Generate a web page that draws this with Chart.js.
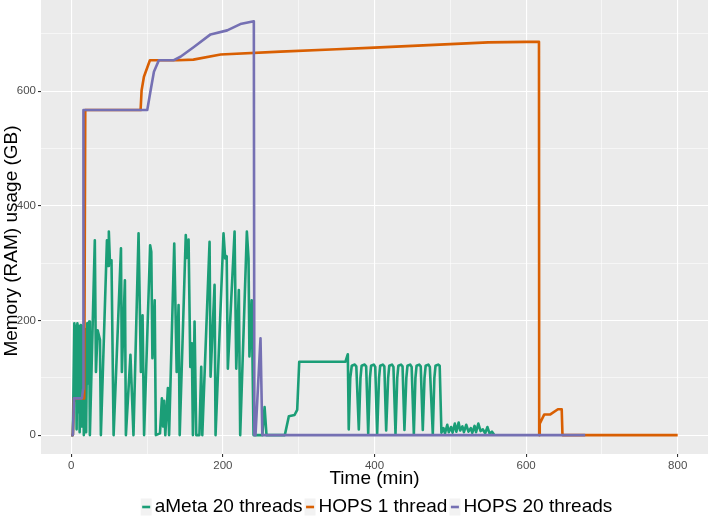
<!DOCTYPE html>
<html lang="en">
<head>
  <meta charset="UTF-8" />
  <title>Memory usage</title>
  <script src="https://cdn.jsdelivr.net/npm/chart.js"></script>
  <style>
    html, body { margin: 0; padding: 0; background: #fff; }
  </style>
</head>
<body>
  <canvas id="memChart" width="708" height="518"></canvas>

  <script>
    // Series labels and colours (Dark2)
    const seriesNames = ['aMeta 20 threads', 'HOPS 1 thread', 'HOPS 20 threads'];
    const seriesColors = ['#1B9E77', '#D95F02', '#7570B3'];

    // tick positions (labels only on every 200)
    const xTicks = [0, 100, 200, 300, 400, 500, 600, 700, 800];
    const yTicks = [0, 100, 200, 300, 400, 500, 600, 700];

    // [time (min), memory (GB)]
    const ametaData = [
      [0, 0], [2, 0], [4, 195], [5, 60], [6, 190], [7, 10], [8, 195], [9, 40], [10, 190], [11, 5],
      [12.5, 192], [14, 15], [15, 190], [16.5, 0], [18, 185], [19.5, 5], [21, 195], [22.5, 90], [23.5, 198], [24.5, 0],
      [31, 340], [32.5, 110], [34.7, 183], [37.8, 166], [39, 0],
      [47, 340], [48.5, 295], [49.5, 355], [51, 300], [53, 305], [55.8, 0],
      [65.5, 326], [66.7, 110], [70.7, 270], [72, 0],
      [78, 140], [82, 0],
      [88.7, 352], [91.8, 110], [94, 209], [96, 0],
      [104, 331], [105.5, 320], [107, 134], [110, 235], [111.5, 0], [117, 3],
      [119.5, 64], [121, 15], [122.5, 60], [124, 0], [127.4, 82], [129, 0],
      [135.8, 334], [139, 110], [141.5, 227], [143, 0],
      [151, 349], [152.5, 309], [154.7, 341], [157, 119], [159, 160], [160.4, 0],
      [162.6, 198], [164.8, 0], [169, 0], [171.4, 119], [172.8, 0],
      [182.4, 337], [183.7, 102], [189, 262], [190.3, 0],
      [200.8, 352], [203, 308], [205, 312], [206.5, 116],
      [215.4, 355], [217.6, 116], [221, 253], [222.8, 0],
      [231.6, 355], [233.8, 308], [235, 137], [238, 235], [240.4, 0],
      [252, 0], [255, 49], [257.5, 0],
      [281.7, 0], [287, 33], [294.5, 35], [298, 44], [300.7, 128], [361.7, 128], [364.8, 141], [366, 10],
      [368, 100], [370, 121], [374, 123], [376, 120], [379.3, 10],
      [381.5, 100], [383, 121], [387, 123], [389, 120], [391.7, 3],
      [394, 100], [395.5, 121], [399, 123], [401, 119], [403.5, 2],
      [406, 100], [407.5, 121], [411, 123], [413, 120], [415.4, 8],
      [418, 100], [419.5, 121], [423, 123], [425, 119], [427.7, 2],
      [430, 100], [431.5, 121], [435, 123], [437, 120], [439.5, 9],
      [442, 100], [443.5, 121], [447, 123], [449, 119], [451.9, 2],
      [454, 100], [455.5, 121], [459, 123], [461, 120], [463.7, 9],
      [466, 100], [467.5, 121], [471, 123], [473, 119], [476.9, 2],
      [479, 100], [480.5, 121], [484, 123], [486, 121], [488.3, 4],
      [491, 12], [493, 3], [496, 18], [498, 5], [501, 14], [503, 4], [506, 20], [508, 6], [511, 22], [513, 8],
      [516, 15], [518, 5], [521, 18], [524, 6], [527, 12], [529, 4], [532, 16], [534, 5], [537, 20], [540, 7],
      [543, 10], [546, 3], [549, 14], [552, 2], [555, 6], [558, 0]
    ];

    const hops1Data = [
      [0, 0], [2, 0], [3.5, 64], [17, 64], [18.4, 567], [91.4, 567], [92.7, 601], [95.8, 625], [103.7, 654],
      [140, 654], [161, 655], [197, 664], [276, 669], [350, 673], [400, 676], [450, 679], [500, 682],
      [550, 685], [600, 686], [617, 686], [617.3, 0], [618, 20], [624, 36], [632, 36], [642, 45], [647, 45],
      [648, 0], [800, 0]
    ];

    const hops20Data = [
      [0, 0], [2, 0], [3.5, 64], [14, 64], [15.5, 80], [16, 567], [100.2, 567], [104.6, 601], [109, 634],
      [115.5, 654], [135.3, 654], [144, 660], [161.7, 677], [183.7, 699], [205.7, 706], [223, 717],
      [240.8, 722], [241.5, 0], [243, 0], [249.6, 169], [252, 0], [678, 0]
    ];

    const FONT = '"Liberation Sans", Arial, sans-serif';
    const toXY = arr => arr.map(p => ({ x: p[0], y: p[1] }));

    // grey panel behind the plot
    const panelBg = {
      id: 'panelBg',
      beforeDraw(chart) {
        const { ctx, chartArea: a } = chart;
        ctx.save();
        ctx.fillStyle = '#EBEBEB';
        ctx.fillRect(a.left, a.top, a.right - a.left, a.bottom - a.top);
        ctx.restore();
      }
    };

    // y title + ggplot style legend
    const extras = {
      id: 'extras',
      afterDraw(chart) {
        const { ctx, chartArea: a } = chart;
        ctx.save();
        ctx.fillStyle = '#000';
        ctx.font = '19px ' + FONT;
        ctx.translate(12, 241);
        ctx.rotate(-Math.PI / 2);
        ctx.textAlign = 'center';
        ctx.textBaseline = 'middle';
        ctx.fillText('Memory (RAM) usage (GB)', 0, 0);
        ctx.restore();

        // legend
        ctx.save();
        ctx.font = '19px ' + FONT;
        ctx.textBaseline = 'middle';
        const keyW = 11, keyH = 17, gap = 3, itemGap = 2, cy = 507;
        const widths = seriesNames.map(n => ctx.measureText(n).width);
        let total = widths.reduce((s, w) => s + w + keyW + gap, 0) + itemGap * (seriesNames.length - 1);
        let x = (a.left + a.right) / 2 - total / 2 + 2;
        seriesNames.forEach((name, i) => {
          ctx.fillStyle = '#F2F2F2';
          ctx.fillRect(x, cy - keyH / 2, keyW, keyH);
          ctx.strokeStyle = seriesColors[i];
          ctx.lineWidth = 2.6;
          ctx.beginPath();
          ctx.moveTo(x + 1.5, cy);
          ctx.lineTo(x + keyW - 1.5, cy);
          ctx.stroke();
          ctx.fillStyle = '#000';
          ctx.fillText(name, x + keyW + gap, cy);
          x += keyW + gap + widths[i] + itemGap;
        });
        ctx.restore();
      }
    };

    const gridOpts = {
      color: '#FFFFFF',
      lineWidth: c => (c.tick && c.tick.value % 200 === 0) ? 1.1 : 0.55,
      tickColor: c => (c.tick && c.tick.value % 200 === 0) ? '#333333' : 'rgba(0,0,0,0)',
      tickLength: 3,
      drawTicks: true
    };
    const tickOpts = {
      callback: v => (v % 200 === 0 ? v : ''),
      color: '#4D4D4D',
      font: { family: FONT, size: 11.5 },
      padding: 2,
      autoSkip: false,
      maxRotation: 0
    };

    const datasets = [ametaData, hops1Data, hops20Data].map((d, i) => ({
      label: seriesNames[i],
      data: toXY(d),
      borderColor: seriesColors[i],
      backgroundColor: seriesColors[i],
      borderWidth: 2.6,
      borderJoinStyle: 'round',
      pointRadius: 0,
      showLine: true,
      fill: false,
      tension: 0,
      order: 2 - i
    }));

    new Chart(document.getElementById('memChart'), {
      type: 'scatter',
      data: { datasets },
      options: {
        responsive: false,
        animation: false,
        devicePixelRatio: 1,
        layout: { padding: { left: 0, right: 0, top: 0, bottom: 28 } },
        plugins: { legend: { display: false }, tooltip: { enabled: false } },
        scales: {
          x: {
            type: 'linear',
            min: -40,
            max: 840,
            afterBuildTicks: s => { s.ticks = xTicks.map(v => ({ value: v })); },
            afterFit: s => { s.height = 36; s.paddingLeft = 0; s.paddingRight = 0; },
            ticks: tickOpts,
            grid: gridOpts,
            border: { display: false },
            title: {
              display: true,
              text: 'Time (min)',
              color: '#000',
              font: { family: FONT, size: 19 },
              padding: { top: 0, bottom: 0 }
            }
          },
          y: {
            type: 'linear',
            min: -33,
            max: 759,
            afterBuildTicks: s => { s.ticks = yTicks.map(v => ({ value: v })); },
            afterFit: s => { s.width = 41; s.paddingTop = 0; s.paddingBottom = 0; },
            ticks: tickOpts,
            grid: gridOpts,
            border: { display: false }
          }
        }
      },
      plugins: [panelBg, extras]
    });
  </script>
</body>
</html>
